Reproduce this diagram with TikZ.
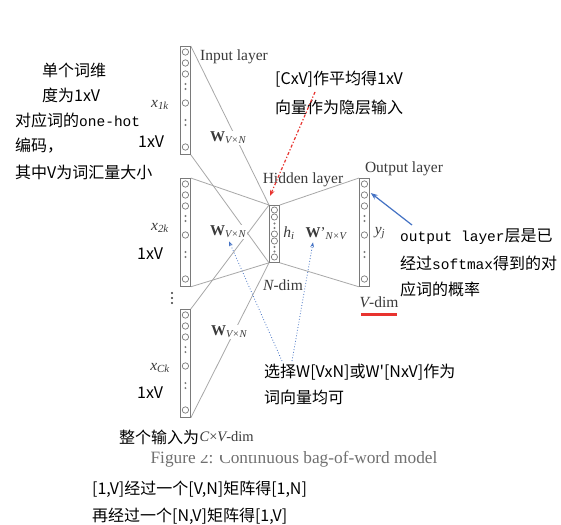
\documentclass[tikz,border=0pt]{standalone}
\usepackage{fontspec}
\setmainfont{Liberation Serif}
\newfontfamily\cjk{Noto Sans CJK SC}
\newfontfamily\mono{Liberation Mono}
\newcommand\monow[1]{{\mono\fontsize{14.5}{17}\selectfont #1}}
\usetikzlibrary{arrows.meta}
\definecolor{dg}{HTML}{3A3A3A}
\definecolor{lg}{HTML}{A8A8A8}
\definecolor{bdc}{HTML}{7A7A7A}
\definecolor{redc}{HTML}{E8332F}
\definecolor{bluec}{HTML}{4472C4}
\definecolor{capc}{HTML}{707070}
\begin{document}
\begin{tikzpicture}[x=1pt,y=-1pt,
 conn/.style={draw=lg, line width=0.8pt},
 colbox/.style={draw=bdc, fill=white, line width=0.8pt, minimum width=10pt, minimum height=108pt, inner sep=0, anchor=north west},
 lab/.style={text=dg, inner sep=0, font=\fontsize{15.5}{17}\selectfont},
 wlab/.style={text=dg, fill=white, inner sep=1pt, font=\fontsize{15}{17}\selectfont},
 ann/.style={anchor=west, inner sep=0, font=\cjk\fontsize{16}{18}\selectfont},
 cir/.style={draw=bdc, line width=0.7pt, fill=white},
 dotc/.style={fill=bdc},
]
\useasboundingbox[fill=white] (0,0) rectangle (561,524);

% layer boxes
\node[colbox] (c1) at (180,46) {};
\node[colbox] (c2) at (180,178) {};
\node[colbox] (c3) at (180,309) {};
\node[colbox] (out) at (359,178) {};
\node[colbox, minimum height=57pt] (hid) at (269,205) {};

% connectors
\draw[conn] (c1.north east) -- (hid.north west);
\draw[conn] (c1.south east) -- (hid.south west);
\draw[conn] (c2.north east) -- (hid.north west);
\draw[conn] (c2.south east) -- (hid.south west);
\draw[conn] (c3.north east) -- (hid.north west);
\draw[conn] (c3.south east) -- (hid.south west);
\draw[conn] (hid.north east) -- (out.north west);
\draw[conn] (hid.south east) -- (out.south west);

% redraw boxes above lines
\node[colbox] at (c1.north west) {};
\node[colbox] at (c2.north west) {};
\node[colbox] at (c3.north west) {};
\node[colbox] at (out.north west) {};
\node[colbox, minimum height=57pt] at (hid.north west) {};

\foreach \n in {c1,c2,c3,out}{
  \foreach \d in {6,17,28,57,101} \draw[cir] (\n.north) ++(0,\d) circle[radius=3.2pt];
  \foreach \d in {38,43,74,79} \fill[dotc] (\n.north) ++(0,\d) circle[radius=1.1pt];
}
\foreach \d in {5,12,29,36,52} \draw[cir] (hid.north) ++(0,\d) circle[radius=3.1pt];
\foreach \d in {18.5,23,42,46.5} \fill[dotc] (hid.north) ++(0,\d) circle[radius=1.1pt];
\foreach \d in {293,298,303} \fill[dg] (172,\d) circle[radius=1.2pt];

% diagram labels
\node[lab] (inl) at (234,57) {Input layer};
\node[lab] (hidl) at (303,180) {Hidden layer};
\node[lab] (outl) at (404,169) {Output layer};
\node[wlab] (w1) at (228,138) {\textbf{W}\textsubscript{\itshape V×N}};
\node[wlab] (w2) at (228,232) {\textbf{W}\textsubscript{\itshape V×N}};
\node[wlab] (w3) at (229,332) {\textbf{W}\textsubscript{\itshape V×N}};
\node[wlab] (wp) at (326,234) {\textbf{W}'\textsubscript{\itshape N×V}};
\node[lab] (x1) at (160,105) {\itshape x\textsubscript{1k}};
\node[lab] (x2) at (160,228) {\itshape x\textsubscript{2k}};
\node[lab] (x3) at (160,368) {\itshape x\textsubscript{Ck}};
\node[lab] (hi) at (289,233) {\itshape h\textsubscript{i}};
\node[lab] (yj) at (380,233) {\itshape y\textsubscript{j}};
\node[lab] (nd) at (283,285) {{\itshape N}-dim};
\node[lab] (vd) at (379,302) {{\itshape V}-dim};
\draw[redc, line width=3pt] (361,314) -- (397,314);

% caption (its top partly hidden, as in the reference)
\node[text=capc, inner sep=0, font=\fontsize{17.3}{19}\selectfont] (cap) at (294,459) {Figure 2: Continuous bag-of-word model};
\fill[white] (183,444) rectangle (290,454.5);

% annotations
\node[ann] (a1) at (42,70) {单个词维};
\node[ann] (a2) at (42,95) {度为1xV};
\node[ann] (a3) at (15,120) {对应词的\monow{one-hot}};
\node[ann] (a4) at (15,146) {编码，};
\node[ann] (a5) at (15,172) {其中V为词汇量大小};
\node[ann] (v1) at (138,142) {1xV};
\node[ann] (v2) at (137,254) {1xV};
\node[ann] (v3) at (137,393) {1xV};
\node[ann] (b1) at (275,79) {[CxV]作平均得1xV};
\node[ann] (b2) at (275,107) {向量作为隐层输入};
\node[ann] (o1) at (400,237) {\monow{output layer}层是已};
\node[ann] (o2) at (400,263) {经过\monow{softmax}得到的对};
\node[ann] (o3) at (400,289) {应词的概率};
\node[ann] (s1) at (264,372) {选择W[VxN]或W'[NxV]作为};
\node[ann] (s2) at (264,397) {词向量均可};
\node[ann] (e1) at (119,437) {整个输入为};
\node[lab, anchor=west, text=dg, font=\fontsize{14.5}{17}\selectfont] (cvd) at (e1.east) {{\itshape C}×{\itshape V}-dim};
\node[ann] (f1) at (92,489) {[1,V]经过一个[V,N]矩阵得[1,N]};
\node[ann] (f2) at (92,516) {再经过一个[N,V]矩阵得[1,V]};

% arrows
\coordinate (rs) at (315,92);
\draw[redc, line width=1.2pt, dash dot, -{Stealth[length=6pt]}] (rs) -- ([shift={(1,-9)}]hid.north west);
\coordinate (bs) at (412,225);
\draw[bluec, line width=1.2pt, -{Stealth[length=7pt]}] (bs) -- ([shift={(1,15)}]out.north east);
\coordinate (d1) at (282,361);
\coordinate (d2) at (292,361);
\draw[bluec, line width=0.8pt, dotted, -{Stealth[length=5pt]}] (d1) -- ([shift={(1,2)}]w2.south);
\draw[bluec, line width=0.8pt, dotted, -{Stealth[length=5pt]}] (d2) -- ([shift={(-13,1)}]wp.south);
\end{tikzpicture}
\end{document}
